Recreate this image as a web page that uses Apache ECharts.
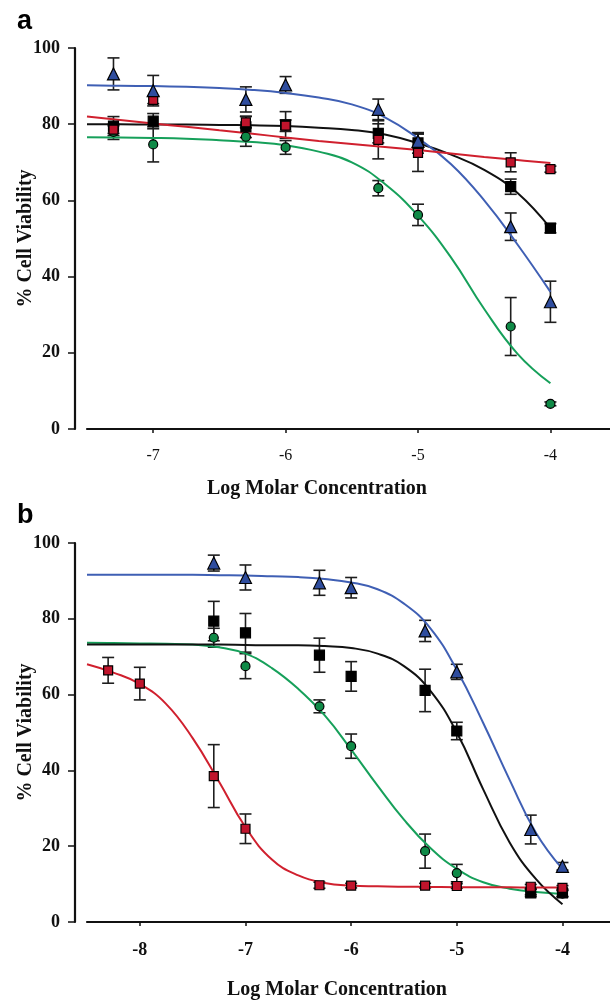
<!DOCTYPE html>
<html>
<head>
<meta charset="utf-8">
<script src="https://cdn.jsdelivr.net/npm/echarts@6/dist/echarts.min.js"></script>
<style>
  html, body { margin: 0; padding: 0; background: #fff; }
  #chart { width: 610px; height: 1000px; }
</style>
</head>
<body>
<div id="chart"></div>
<script>
// ---- Panel a: measured points (log molar concentration vs % viability, mean ± error) ----
const concA = [-7.3, -7, -6.3, -6, -5.3, -5, -4.3, -4];
const triA = [93.2, 88.8, 86.5, 90.3, 83.9, 75.5, 53.1, 33.4];
const triErrA = [4.2, 4.0, 3.3, 2.2, 2.7, 2.0, 3.6, 5.4];
const blkA = [79.5, 80.8, 79.3, 79.8, 77.6, 75.1, 63.6, 52.7];
const blkErrA = [2.5, 2.0, 2.8, 3.5, 2.5, 2.7, 2.0, 1.2];
const redA = [78.6, 86.4, 80.5, 79.6, 75.9, 72.5, 70.0, 68.2];
const redErrA = [1.0, 1.0, 1.5, 1.5, 5.0, 4.9, 2.5, 0.8];
const grnA = [78.0, 74.7, 76.7, 73.9, 63.2, 56.2, 26.9, 6.6];
const grnErrA = [2.0, 4.6, 2.5, 1.8, 2.0, 2.8, 7.6, 0.5];

// ---- Panel a: fitted curves ----
const fitXA = [-7.5, -7.25, -7, -6.75, -6.5, -6.25, -6, -5.75, -5.5, -5.25, -5, -4.75, -4.5, -4.25, -4];
const fitTriA = [90.2, 90.1, 90.0, 89.8, 89.5, 89.0, 88.2, 87.0, 85.2, 81.8, 76.3, 69.5, 60.0, 48.5, 36.0];
const fitBlkA = [80.0, 80.0, 79.9, 79.9, 79.8, 79.7, 79.5, 79.1, 78.5, 77.3, 75.0, 72.0, 68.0, 62.0, 52.7];
const fitRedA = [82.0, 81.1, 80.2, 79.3, 78.4, 77.5, 76.5, 75.6, 74.8, 74.0, 73.2, 72.3, 71.4, 70.6, 69.8];
const fitGrnA = [76.6, 76.5, 76.4, 76.2, 75.8, 75.3, 74.5, 72.8, 70.0, 64.3, 56.0, 45.0, 31.5, 19.8, 12.0];

// ---- Panel b: measured points ----
const concB = [-7.3, -7, -6.3, -6, -5.3, -5, -4.3, -4];
const concRedB = [-8.3, -8, -7.3, -7, -6.3, -6, -5.3, -5, -4.3, -4];
const triB = [94.7, 90.9, 89.5, 88.2, 76.8, 66.0, 24.4, 14.7];
const triErrB = [2.1, 3.3, 3.3, 2.7, 2.8, 2.0, 3.8, 1.0];
const blkB = [79.4, 76.3, 70.4, 64.8, 61.1, 50.4, 7.7, 7.7];
const blkErrB = [5.2, 5.1, 4.5, 3.9, 5.6, 2.3, 1.0, 1.0];
const grnB = [75.0, 67.5, 56.9, 46.4, 18.7, 12.9, 8.0, 7.5];
const grnErrB = [2.5, 3.3, 1.7, 3.2, 4.5, 2.3, 0.8, 0.8];
const redB = [66.4, 62.9, 38.5, 24.6, 9.7, 9.6, 9.6, 9.5, 9.3, 9.0];
const redErrB = [3.4, 4.3, 8.3, 3.9, 0.8, 0.6, 0.6, 0.6, 0.6, 0.6];

// ---- Panel b: fitted curves ----
const fitXB = [-8.5, -8.25, -8, -7.75, -7.5, -7.25, -7, -6.75, -6.5, -6.25, -6, -5.75, -5.5, -5.25, -5, -4.75, -4.5, -4.25, -4];
const fitTriB = [91.6, 91.6, 91.6, 91.6, 91.6, 91.5, 91.4, 91.2, 91.0, 90.5, 89.6, 87.8, 84.0, 77.5, 66.5, 52.5, 37.5, 23.5, 14.0];
const fitBlkB = [73.2, 73.2, 73.2, 73.2, 73.2, 73.2, 73.1, 73.0, 73.0, 72.8, 72.3, 70.8, 67.5, 61.0, 50.0, 35.0, 21.0, 11.3, 4.7];
const fitGrnB = [73.7, 73.6, 73.5, 73.4, 73.2, 72.5, 70.8, 67.0, 61.5, 54.5, 45.5, 36.0, 27.0, 19.5, 14.0, 10.5, 8.8, 7.9, 7.4];
const fitRedB = [68.0, 65.8, 62.8, 57.5, 48.5, 37.0, 25.0, 16.5, 12.3, 10.3, 9.6, 9.4, 9.3, 9.25, 9.2, 9.2, 9.15, 9.1, 9.1];

// ---- ticks ----
const xTicksA = [-7, -6, -5, -4];
const xTicksB = [-8, -7, -6, -5, -4];

const C = {
  blue: '#3f5fb4', blueFill: '#2f4d9e',
  red: '#d0202e', redFill: '#c0142c',
  green: '#16a05a', greenFill: '#0f8a47',
  black: '#111111', err: '#1e1e1e'
};
const SERIF = '"Liberation Serif", "DejaVu Serif", serif';

const zip = (xs, ys) => xs.map((x, i) => [x, ys[i]]);
const errRows = (xs, ys, es) => xs.map((x, i) => [x, ys[i] - es[i], ys[i] + es[i]]);

// vertical error bar with caps, drawn in data coordinates
function errorBars(xs, ys, es, gi) {
  return {
    type: 'custom', xAxisIndex: gi, yAxisIndex: gi, z: 2, silent: true,
    data: errRows(xs, ys, es),
    encode: { x: 0, y: [1, 2] },
    renderItem: function (params, api) {
      const x = api.value(0);
      const lo = api.coord([x, api.value(1)]);
      const hi = api.coord([x, api.value(2)]);
      const w = 6;
      const st = { stroke: C.err, lineWidth: 1.6 };
      return {
        type: 'group',
        children: [
          { type: 'line', shape: { x1: lo[0], y1: lo[1], x2: hi[0], y2: hi[1] }, style: st },
          { type: 'line', shape: { x1: hi[0] - w, y1: hi[1], x2: hi[0] + w, y2: hi[1] }, style: st },
          { type: 'line', shape: { x1: lo[0] - w, y1: lo[1], x2: lo[0] + w, y2: lo[1] }, style: st }
        ]
      };
    }
  };
}

function fitLine(xs, ys, color, gi) {
  return {
    type: 'line', xAxisIndex: gi, yAxisIndex: gi, z: 3, silent: true,
    data: zip(xs, ys), smooth: 0.45, showSymbol: false,
    lineStyle: { color: color, width: 2 }
  };
}

function markers(xs, ys, symbol, size, fill, gi, z) {
  return {
    type: 'scatter', xAxisIndex: gi, yAxisIndex: gi, z: z || 4, silent: true,
    data: zip(xs, ys), symbol: symbol, symbolSize: size,
    itemStyle: { color: fill, borderColor: '#000', borderWidth: 1.2, opacity: 1 }
  };
}

function xAxisCfg(gi, min, ticks, bold, size, margin) {
  return {
    type: 'value', gridIndex: gi, min: min, max: -3.55,
    axisLine: { show: true, onZero: false, lineStyle: { color: C.black, width: 2.2 } },
    axisTick: { show: true, inside: false, length: 4, customValues: ticks, lineStyle: { color: C.black, width: 1.5 } },
    axisLabel: { customValues: ticks, margin: margin, color: '#111', fontFamily: SERIF, fontSize: size, fontWeight: bold ? 'bold' : 'normal' },
    splitLine: { show: false }
  };
}

function yAxisCfg(gi) {
  return {
    type: 'value', gridIndex: gi, min: 0, max: 100, interval: 20, offset: 12,
    axisLine: { show: true, lineStyle: { color: C.black, width: 2.2 } },
    axisTick: { show: true, length: 7, lineStyle: { color: C.black, width: 1.5 } },
    axisLabel: { margin: 15, color: '#111', fontFamily: SERIF, fontSize: 18, fontWeight: 'bold' },
    splitLine: { show: false },
    name: '% Cell Viability', nameLocation: 'middle', nameGap: 39, nameRotate: 90, nameMoveOverlap: false,
    nameTextStyle: { color: '#111', fontFamily: SERIF, fontSize: 20, fontWeight: 'bold' }
  };
}

const chart = echarts.init(document.getElementById('chart'), null, { renderer: 'canvas' });
chart.setOption({
  animation: false,
  backgroundColor: '#fff',
  grid: [
    { left: 87, right: 0, top: 48, height: 381, containLabel: false, outerBoundsMode: 'none' },
    { left: 87, right: 0, top: 543, height: 379, containLabel: false, outerBoundsMode: 'none' }
  ],
  xAxis: [xAxisCfg(0, -7.5, xTicksA, false, 16, 19), xAxisCfg(1, -8.5, xTicksB, true, 18, 19)],
  yAxis: [yAxisCfg(0), yAxisCfg(1)],
  graphic: [
    { type: 'text', left: 17, top: 8, style: { text: 'a', font: 'bold 27px "Liberation Sans", Arial, sans-serif', fill: '#000' } },
    { type: 'text', left: 17, top: 502, style: { text: 'b', font: 'bold 27px "Liberation Sans", Arial, sans-serif', fill: '#000' } },
    { type: 'text', x: 317, y: 489, style: { text: 'Log Molar Concentration', textAlign: 'center', textVerticalAlign: 'middle', font: 'bold 20px "Liberation Serif", serif', fill: '#111' } },
    { type: 'text', x: 337, y: 990, style: { text: 'Log Molar Concentration', textAlign: 'center', textVerticalAlign: 'middle', font: 'bold 20px "Liberation Serif", serif', fill: '#111' } }
  ],
  series: [
    // panel a
    errorBars(concA, grnA, grnErrA, 0),
    errorBars(concA, redA, redErrA, 0),
    errorBars(concA, blkA, blkErrA, 0),
    errorBars(concA, triA, triErrA, 0),
    fitLine(fitXA, fitGrnA, C.green, 0),
    fitLine(fitXA, fitBlkA, C.black, 0),
    fitLine(fitXA, fitTriA, C.blue, 0),
    fitLine(fitXA, fitRedA, C.red, 0),
    markers(concA, grnA, 'circle', 9, C.greenFill, 0, 4),
    markers(concA, blkA, 'rect', 10, '#000', 0, 5),
    markers(concA, redA, 'rect', 9, C.redFill, 0, 6),
    markers(concA, triA, 'triangle', 12, C.blueFill, 0, 7),
    // panel b
    errorBars(concRedB, redB, redErrB, 1),
    errorBars(concB, grnB, grnErrB, 1),
    errorBars(concB, blkB, blkErrB, 1),
    errorBars(concB, triB, triErrB, 1),
    fitLine(fitXB, fitGrnB, C.green, 1),
    fitLine(fitXB, fitBlkB, C.black, 1),
    fitLine(fitXB, fitTriB, C.blue, 1),
    fitLine(fitXB, fitRedB, C.red, 1),
    markers(concB, grnB, 'circle', 9, C.greenFill, 1, 4),
    markers(concB, blkB, 'rect', 10, '#000', 1, 5),
    markers(concRedB, redB, 'rect', 9, C.redFill, 1, 6),
    markers(concB, triB, 'triangle', 12, C.blueFill, 1, 7)
  ]
});
</script>
</body>
</html>
